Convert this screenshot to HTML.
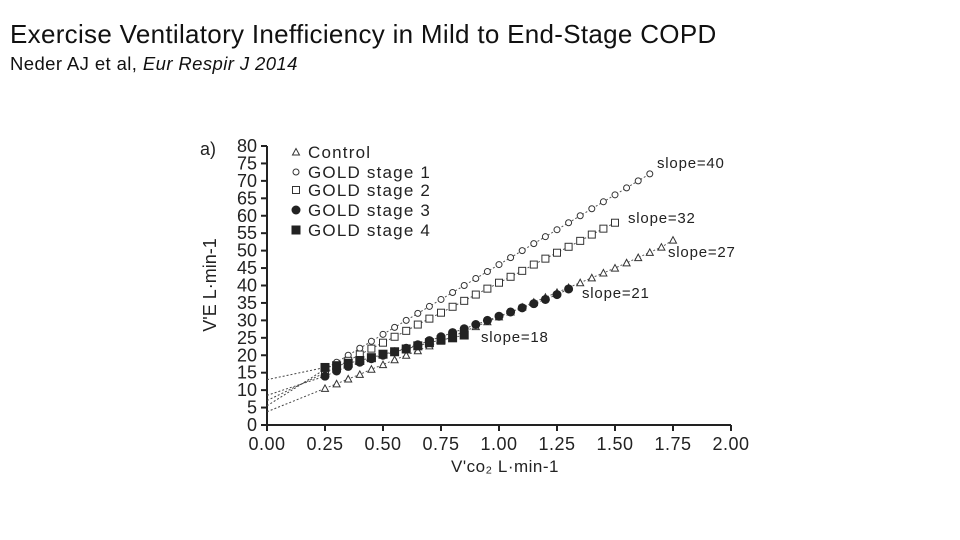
<!DOCTYPE html>
<html><head><meta charset="utf-8"><style>
body{margin:0;width:960px;height:540px;background:#fff;overflow:hidden;font-family:"Liberation Sans",sans-serif}
.t{position:absolute;left:10px;top:19px;font-size:26px;letter-spacing:0.3px;color:#111;white-space:nowrap}
.s{position:absolute;left:10px;top:53px;font-size:18.5px;letter-spacing:0.4px;color:#111;white-space:nowrap}
</style></head><body>
<div class="t">Exercise Ventilatory Inefficiency in Mild to End-Stage COPD</div>
<div class="s">Neder AJ et al, <i>Eur Respir J 2014</i></div>
<svg id="c" width="960" height="540" style="position:absolute;left:0;top:0"></svg>
<script>
const xTicks=[0,0.25,0.5,0.75,1,1.25,1.5,1.75,2];
const xTickLabels=["0.00","0.25","0.50","0.75","1.00","1.25","1.50","1.75","2.00"];
const yTicks=[0,5,10,15,20,25,30,35,40,45,50,55,60,65,70,75,80];
const seriesNames=["Control","GOLD stage 1","GOLD stage 2","GOLD stage 3","GOLD stage 4"];
const startX=[0.25,0.25,0.25,0.25,0.25];
const controlY=[10.5,11.8,13.2,14.5,16,17.3,18.7,20,21.3,22.7,24,25.4,26.8,28.2,29.6,31,32.4,33.8,35.2,36.6,38,39.4,40.8,42.2,43.6,45,46.5,48,49.5,51,53];
const gold1Y=[16,18,20,22,24,26,28,30,32,34,36,38,40,42,44,46,48,50,52,54,56,58,60,62,64,66,68,70,72];
const gold2Y=[15,16.7,18.4,20.2,21.9,23.6,25.3,27,28.8,30.5,32.2,33.9,35.6,37.4,39.1,40.8,42.5,44.2,46,47.7,49.4,51.1,52.8,54.6,56.3,58];
const gold3Y=[14,15.5,16.8,18,19,20,21,22,23,24.2,25.3,26.5,27.6,28.8,30,31.2,32.4,33.6,34.8,36,37.4,39];
const gold4Y=[16.5,17,17.7,18.5,19.3,20.3,21,21.8,22.7,23.6,24.4,25,25.8];
const intercepts=[3.8,5.5,7,8.5,13];
const slopeLabels=["slope=27","slope=40","slope=32","slope=21","slope=18"];
const step=0.05;

const svg=document.getElementById('c');
const NS="http://www.w3.org/2000/svg";
const X0=267,X1=731,Y0=425,Y1=146;
const sx=v=>X0+(X1-X0)*v/2, sy=v=>Y0-(Y0-Y1)*v/80;
function mk(tag,a,txt){const e=document.createElementNS(NS,tag);for(const k in a)e.setAttribute(k,a[k]);if(txt!=null)e.textContent=txt;svg.appendChild(e);return e;}
const F='font-family:"Liberation Sans",sans-serif;fill:#222';
let e=mk('line',{x1:X0,y1:Y0,x2:X1,y2:Y0,stroke:'#222','stroke-width':2});


e=mk('line',{x1:X0,y1:Y0,x2:X0,y2:Y1,stroke:'#222','stroke-width':2});


xTicks.forEach((v,i)=>{
 mk('line',{x1:sx(v),y1:Y0,x2:sx(v),y2:Y0+6,stroke:'#222','stroke-width':2});
 const t=mk('text',{x:sx(v),y:Y0+25,'text-anchor':'middle',style:F+';font-size:18px;letter-spacing:0.5px'},xTickLabels[i]);
 
 
});
yTicks.forEach(v=>{
 mk('line',{x1:X0-6,y1:sy(v),x2:X0,y2:sy(v),stroke:'#222','stroke-width':2});
 const t=mk('text',{x:X0-10,y:sy(v)+6,'text-anchor':'end',style:F+';font-size:18px'},v);
 
 
});
e=mk('text',{x:200,y:155,style:F+';font-size:18px'},'a)');


e=mk('text',{x:0,y:0,transform:'translate(216,285) rotate(-90)','text-anchor':'middle',style:F+';font-size:18px'},"V'E L·min-1");


e=mk('text',{x:505,y:472,'text-anchor':'middle',style:F+';font-size:17px;letter-spacing:0.5px'},"V'co₂ L·min-1");



const data=[controlY,gold1Y,gold2Y,gold3Y,gold4Y];
function marker(i,x,y){
 return {0:()=>mk('path',{d:`M${x-3.5},${y+3}L${x+3.5},${y+3}L${x},${y-3.5}Z`,fill:'#fff',stroke:'#333','stroke-width':1}),
 1:()=>mk('circle',{cx:x,cy:y,r:3,fill:'#fff',stroke:'#333','stroke-width':1}),
 2:()=>mk('rect',{x:x-3.5,y:y-3.5,width:7,height:7,fill:'#fff',stroke:'#333','stroke-width':1}),
 3:()=>mk('circle',{cx:x,cy:y,r:4.5,fill:'#222'}),
 4:()=>mk('rect',{x:x-4.5,y:y-4.5,width:9,height:9,fill:'#222'})}[i]();
}
data.forEach((arr,i)=>{
 const l=mk('line',{x1:sx(0),y1:sy(intercepts[i]),x2:sx(startX[i]),y2:sy(arr[0]),stroke:'#444','stroke-width':1,'stroke-dasharray':'2,2'});
 
 
 const pts=arr.map((v,j)=>sx(startX[i]+j*step)+','+sy(v)).join(' ');
 const pl=mk('polyline',{points:pts,fill:'none',stroke:'#555','stroke-width':1,'stroke-dasharray':'2,2'});
 
 
 arr.forEach((v,j)=>{
  const m=marker(i,sx(startX[i]+j*step),sy(v));
  
  
 });
});
const slx=[668,657,628,582,481], sly=[257,168,223,298,342];
slopeLabels.forEach((s,i)=>{
 const t=mk('text',{x:slx[i],y:sly[i],style:F+';font-size:15px;letter-spacing:0.8px'},s);
 
 
});
const ly=[152,172,190,210,230];
seriesNames.forEach((n,i)=>{
 const m=marker(i,296,ly[i]);
 
 
 const t=mk('text',{x:308,y:ly[i]+6,style:F+';font-size:17px;letter-spacing:1.2px'},n);
 
 
});
</script>
</body></html>
